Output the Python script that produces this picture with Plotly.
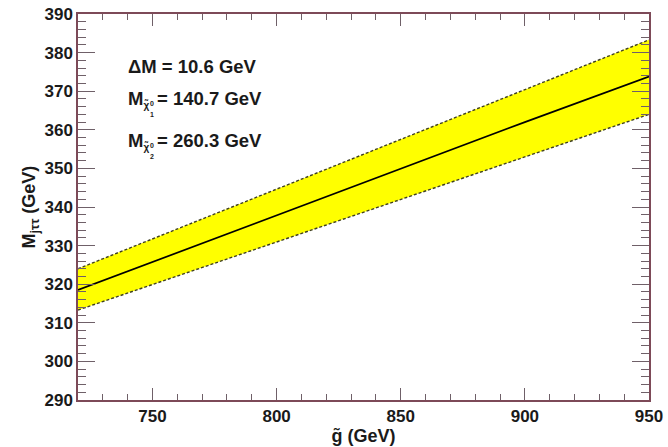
import plotly.graph_objects as go

# Data
gluino_mass = [720, 760, 800, 850, 900, 950]
m_jtautau_central = [318.5, 328.2, 337.9, 350.0, 362.0, 373.8]
m_jtautau_upper = [324.0, 334.3, 344.6, 357.5, 370.4, 383.3]
m_jtautau_lower = [313.3, 322.1, 330.9, 341.9, 352.9, 364.0]

x_ticks = [750, 800, 850, 900, 950]
y_ticks = [290, 300, 310, 320, 330, 340, 350, 360, 370, 380, 390]

FONT = "Liberation Sans"
W, H = 668, 447
L, R, T, B = 78, 19, 14, 47
PW, PH = W - L - R, H - T - B


def px(x):
    return (x - L) / PW


def py(y):
    return (H - B - y) / PH


fig = go.Figure()
fig.add_trace(go.Scatter(x=gluino_mass, y=m_jtautau_lower, mode="lines",
                         line=dict(color="#404020", width=1.4, dash="3px,2px"),
                         showlegend=False, hoverinfo="skip"))
fig.add_trace(go.Scatter(x=gluino_mass, y=m_jtautau_upper, mode="lines",
                         fill="tonexty", fillcolor="#ffff00",
                         line=dict(color="#404020", width=1.4, dash="3px,2px"),
                         showlegend=False, hoverinfo="skip"))
fig.add_trace(go.Scatter(x=gluino_mass, y=m_jtautau_central, mode="lines",
                         line=dict(color="black", width=1.7),
                         showlegend=False))

axis_common = dict(
    showgrid=False, zeroline=False, showline=True, linecolor="#7d4a58",
    linewidth=1.5, mirror="ticks", ticks="inside", tickcolor="#6f6068",
    tickwidth=1.2, automargin=False, ticklabeloverflow="allow",
    tickfont=dict(family=FONT, size=17, color="#1a1a1a", weight="bold"),
)

fig.update_xaxes(range=[720, 950], tickvals=x_ticks, ticklen=12,
                 minor=dict(dtick=10, tick0=720, ticklen=6, ticks="inside",
                            tickcolor="#6f6068", tickwidth=1.2),
                 title=dict(text="g̃ (GeV)", standoff=4,
                            font=dict(family=FONT, size=18, color="#1a1a1a",
                                      weight="bold")),
                 **axis_common)
fig.update_yaxes(range=[290, 390], tickvals=y_ticks, ticklen=17,
                 minor=dict(dtick=2, tick0=290, ticklen=8, ticks="inside",
                            tickcolor="#6f6068", tickwidth=1.2),
                 title=dict(text="M<sub>jττ</sub> (GeV)", standoff=4,
                            font=dict(family=FONT, size=18, color="#1a1a1a",
                                      weight="bold")),
                 **axis_common)

txt_font = dict(family=FONT, size=18.5, color="#1a1a1a", weight="bold")
tiny_font = dict(family=FONT, size=7, color="#1a1a1a", weight="bold")

ann = []
ann.append(dict(text="ΔM = 10.6 GeV", x=px(126), y=py(66), font=txt_font))
for yc, val in [(98, "140.7"), (140, "260.3")]:
    idx = "1" if val == "140.7" else "2"
    ann.append(dict(text="M<sub><span style='font-size:10px'>χ̃</span></sub>",
                    x=px(126), y=py(yc + 1), font=txt_font))
    ann.append(dict(text="= " + val + " GeV", x=px(155), y=py(yc), font=txt_font))
    ann.append(dict(text="0", x=px(148), y=py(yc + 5), font=tiny_font))
    ann.append(dict(text=idx, x=px(148), y=py(yc + 16), font=tiny_font))

for a in ann:
    a.update(xref="paper", yref="paper", xanchor="left", yanchor="middle",
             showarrow=False)

fig.update_layout(
    width=W, height=H,
    margin=dict(l=L, r=R, t=T, b=B, autoexpand=False),
    plot_bgcolor="white", paper_bgcolor="white",
    annotations=ann,
    font=dict(family=FONT),
)

fig.write_html("out.html",
               config={"displayModeBar": False},
               post_script="document.body.style.margin='0';"
                           "document.body.style.overflow='hidden';")
